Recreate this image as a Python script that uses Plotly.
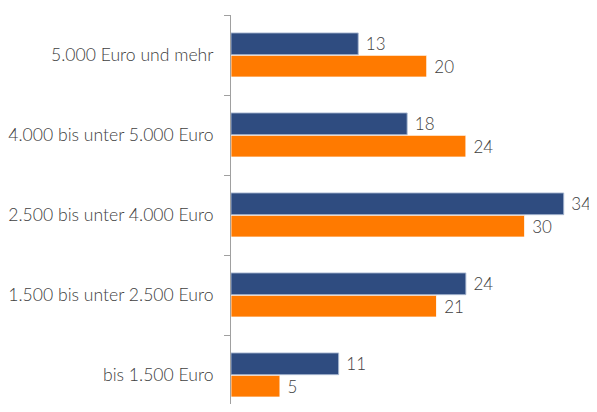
import plotly.graph_objects as go

categories = ["bis 1.500 Euro", "1.500 bis unter 2.500 Euro", "2.500 bis unter 4.000 Euro",
              "4.000 bis unter 5.000 Euro", "5.000 Euro und mehr"]
blue_values = [11, 24, 34, 18, 13]
orange_values = [5, 21, 30, 24, 20]

BLUE = "#2F4C80"
ORANGE = "#FF7A00"
TXT = "#404040"
FONT = "Lato"

fig = go.Figure()
fig.add_trace(go.Bar(
    y=categories, x=orange_values, orientation="h",
    marker=dict(color=ORANGE, line=dict(color="rgba(255,255,255,0.8)", width=1)),
    text=[" " + str(v) for v in orange_values], textposition="outside",
    textfont=dict(family=FONT, size=17, color=TXT, weight=300), cliponaxis=False,
    constraintext="none", showlegend=False, hoverinfo="x+y"))
fig.add_trace(go.Bar(
    y=categories, x=blue_values, orientation="h",
    marker=dict(color=BLUE, line=dict(color="rgba(170,185,210,0.9)", width=1)),
    text=[" " + str(v) for v in blue_values], textposition="outside",
    textfont=dict(family=FONT, size=17, color=TXT, weight=300), cliponaxis=False,
    constraintext="none", showlegend=False, hoverinfo="x+y"))

fig.update_layout(
    width=589, height=396,
    margin=dict(l=223, r=0, t=7, b=0),
    barmode="group", bargap=0.44, bargroupgap=0.03,
    plot_bgcolor="white", paper_bgcolor="white",
    font=dict(family=FONT, size=17, color=TXT, weight=300),
    xaxis=dict(range=[0, 37.4], visible=False, showgrid=False, zeroline=False),
    yaxis=dict(range=[-0.3625, 4.5], showline=True, linecolor="#A0A0A0", linewidth=1,
               ticks="outside", tickson="boundaries", ticklen=6, tickcolor="#A0A0A0",
               ticklabelstandoff=13, showgrid=False, zeroline=False,
               tickfont=dict(family=FONT, size=17.6, color=TXT, weight=300)),
)
fig.write_html("out.html")
